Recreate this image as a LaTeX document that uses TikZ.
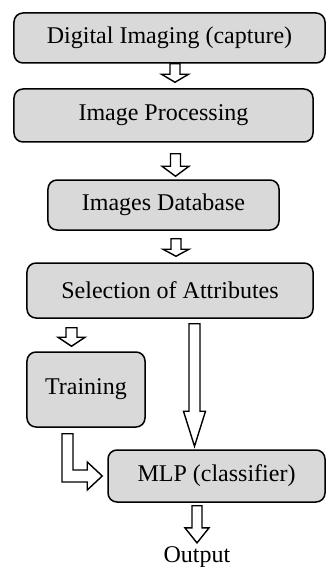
\documentclass[tikz,border=0pt]{standalone}
\usepackage{fontspec}
\setmainfont{Liberation Serif}
\usetikzlibrary{calc}
\definecolor{boxgray}{HTML}{D9D9D9}
\tikzset{
  box/.style={draw=black, fill=boxgray, line width=1.5bp, rounded corners=9bp,
    inner sep=0pt, anchor=center, font=\fontsize{24bp}{28bp}\selectfont},
  blk/.style={draw=black, fill=white, line width=1.4bp, line join=miter},
  lbl/.style={inner sep=0pt, font=\fontsize{24bp}{28bp}\selectfont}
}
% #1 x (bp), #2 top coordinate, #3 tip coordinate, #4 shaft half width, #5 head half width, #6 head length
\newcommand\fatdown[6]{%
  \draw[blk] let \p1=(#2), \p2=(#3) in
    (#1bp-#4bp,\y1) -- (#1bp+#4bp,\y1) -- (#1bp+#4bp,\y2+#6bp) -- (#1bp+#5bp,\y2+#6bp)
    -- (#1bp,\y2) -- (#1bp-#5bp,\y2+#6bp) -- (#1bp-#4bp,\y2+#6bp) -- cycle;}
\begin{document}
\begin{tikzpicture}[x=1bp,y=-1bp]
\useasboundingbox (0,0) rectangle (325,567);
\node[box, minimum width=311bp, minimum height=50bp] (b1) at (169.5,38) {Digital Imaging (capture)};
\node[box, minimum width=299bp, minimum height=53bp] (b2) at (163.5,115.5) {Image Processing};
\node[box, minimum width=231bp, minimum height=50bp] (b3) at (163.5,205) {Images Database};
\node[box, minimum width=286bp, minimum height=55bp] (b4) at (170,290.5) {Selection of Attributes};
\node[box, minimum width=118bp, minimum height=75bp] (tr) at (86,389.5) {Training};
\node[box, minimum width=217bp, minimum height=52bp] (mlp) at (216.5,476) {MLP (classifier)};
\node[lbl, anchor=base] (out) at (197,562) {Output};
\fatdown{175}{b1.south}{[yshift=6bp]b2.north}{5}{13.5}{8}
\fatdown{175.5}{[yshift=-11bp]b2.south}{[yshift=3bp]b3.north}{5}{13.5}{10}
\fatdown{176}{[yshift=-8bp]b3.south}{[yshift=6bp]b4.north}{5}{13}{7}
\fatdown{71.5}{[yshift=-9bp]b4.south}{[yshift=5bp]tr.north}{5.5}{13.5}{9}
\fatdown{194.5}{[yshift=-5bp]b4.south}{[yshift=3bp]mlp.north}{5.5}{11}{35}
\fatdown{197}{[yshift=-3bp]mlp.south}{[yshift=3bp]out.north}{5}{12}{15}
\draw[blk] let \p1=([yshift=-6bp]tr.south), \p2=([xshift=-5bp]mlp.west) in
  (62bp,\y1) -- (73bp,\y1) -- (73bp,\y2+6bp) -- (\x2-15bp,\y2+6bp) -- (\x2-15bp,\y2+14bp)
  -- (\x2,\y2) -- (\x2-15bp,\y2-14bp) -- (\x2-15bp,\y2-6bp) -- (62bp,\y2-6bp) -- cycle;
\end{tikzpicture}
\end{document}
